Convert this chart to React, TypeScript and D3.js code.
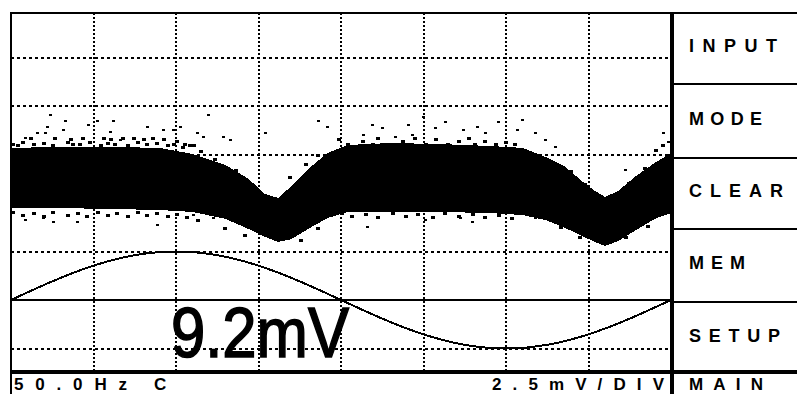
import React from "react";
import * as d3 from "d3";

// ---- data (time in ms, voltage in mV; 2.5 mV/DIV, 2.5 ms/DIV) ----
const BAND_T = [0, 1.5, 3, 4.5, 5.5, 6.5, 7.2, 7.7, 8.1, 8.5, 9.0, 9.6, 10.2, 11.5, 13, 14.5, 15.5, 16.2, 16.8, 17.3, 17.7, 18.0, 18.4, 18.9, 19.5, 20];
const BAND_UPPER = [7.84, 7.89, 7.89, 7.84, 7.53, 6.96, 6.24, 5.46, 5.26, 5.88, 6.75, 7.58, 7.99, 8.09, 8.04, 7.94, 7.84, 7.37, 6.86, 6.13, 5.62, 5.31, 5.62, 6.34, 7.06, 7.58];
const BAND_LOWER = [4.74, 4.74, 4.69, 4.64, 4.54, 4.18, 3.66, 3.25, 2.99, 3.14, 3.66, 4.23, 4.54, 4.54, 4.54, 4.48, 4.38, 4.12, 3.71, 3.30, 2.99, 2.78, 3.04, 3.56, 4.18, 4.48];

// isolated noise samples outside the dense band
const DOT_T = [1.18, 5.97, 9.30, 1.64, 3.09, 2.61, 1.09, 0.79, 1.03, 1.58, 2.33, 4.12, 4.61, 4.91, 5.12, 7.70, 5.64, 5.82, 6.42, 6.64, 0.42, 3.0, 3.30, 9.58, 10.94, 11.24, 12.03, 12.15, 12.48, 12.85, 13.15, 13.70, 14.12, 14.36, 14.76, 15.48, 15.33, 15.88, 16.18, 16.48, 10.67, 11.64, 19.76, 19.91, 18.61,
  0.42, 0.97, 1.27, 2.0, 4.42, 5.52, 6.12, 8.0, 8.21, 10.79, 13.61, 13.97, 15.88, 12.55, 17.85];
const DOT_MV = [9.54, 9.54, 9.23, 9.23, 9.23, 9.23, 8.92, 8.61, 8.61, 8.76, 9.02, 8.92, 8.76, 8.76, 8.92, 8.61, 8.61, 8.40, 8.40, 8.25, 8.35, 8.66, 8.25, 8.92, 9.02, 8.87, 9.02, 8.51, 9.43, 8.87, 9.18, 8.76, 8.92, 8.61, 9.18, 9.28, 8.76, 8.61, 8.25, 7.89, 8.51, 8.40, 8.61, 8.14, 6.70,
  4.12, 4.23, 4.02, 4.02, 3.87, 4.38, 4.23, 4.79, 5.31, 3.76, 4.23, 4.02, 4.23, 4.12, 4.64];

// fringe samples hugging the band edges
const FRINGE_T = [
  0.06, 0.21, 0.36, 0.67, 0.97, 1.27, 1.70, 1.85, 2.09, 2.39, 2.70, 2.91, 3.15, 3.52, 3.82, 4.12, 4.42, 4.73, 4.91, 5.21, 5.42, 5.73,
  0.58, 1.33, 1.79, 2.18, 2.79, 3.0, 3.39, 3.70, 4.0, 4.30, 4.61, 5.03, 5.27, 5.52,
  0.06, 0.36, 0.67, 0.97, 1.27, 1.70, 2.0, 2.30, 2.61, 2.91, 3.21, 3.52, 3.82, 4.12, 4.42, 4.73, 5.03, 5.33, 5.64,
  9.91, 10.21, 10.64, 10.94, 11.12, 11.42, 11.85, 12.24, 12.55, 12.85, 13.24, 13.55, 13.85, 14.06, 14.36, 14.67, 14.97, 15.27,
  10.03, 10.33, 10.73, 11.12, 11.55, 11.94, 12.33, 12.76, 13.15, 13.55, 13.97, 14.36, 14.76, 15.18,
  6.18, 6.79, 7.24, 8.45, 8.91, 9.30, 6.48, 7.09, 8.76, 9.30,
  16.48, 16.94, 17.39, 18.70, 19.21, 16.64, 17.24, 18.61, 19.30, 19.52, 19.73,
];
const FRINGE_MV = [
  8.04, 7.94, 8.14, 7.99, 8.09, 7.94, 8.14, 8.04, 7.99, 8.14, 7.94, 8.09, 8.04, 7.94, 8.14, 7.99, 8.09, 7.94, 8.04, 7.84, 7.94, 7.68,
  8.30, 8.35, 8.25, 8.30, 8.35, 8.25, 8.30, 8.35, 8.25, 8.30, 8.25, 8.19, 8.04, 7.94,
  4.50, 4.36, 4.45, 4.30, 4.50, 4.36, 4.45, 4.30, 4.50, 4.36, 4.45, 4.30, 4.50, 4.36, 4.45, 4.30, 4.40, 4.25, 4.12,
  8.25, 8.04, 8.19, 7.99, 8.30, 8.04, 8.19, 8.35, 8.04, 8.25, 7.99, 8.19, 8.30, 8.04, 8.19, 7.99, 8.14, 7.99,
  4.48, 4.28, 4.40, 4.23, 4.48, 4.28, 4.40, 4.23, 4.48, 4.28, 4.40, 4.23, 4.36, 4.18,
  7.22, 6.70, 5.93, 6.29, 6.96, 7.47, 3.71, 3.30, 3.09, 3.71,
  7.06, 6.60, 5.93, 6.03, 6.80, 3.76, 3.20, 3.20, 3.81, 7.73, 7.94,
];

const SINE_T = [0, 1.25, 2.5, 3.75, 5, 6.25, 7.5, 8.75, 10, 11.25, 12.5, 13.75, 15, 16.25, 17.5, 18.75, 20];
const SINE_MV = [0, 0.96, 1.77, 2.31, 2.5, 2.31, 1.77, 0.96, 0, -0.96, -1.77, -2.31, -2.5, -2.31, -1.77, -0.96, 0];

const X_DIV_TICKS = [2.5, 5, 7.5, 10, 12.5, 15, 17.5];
const Y_DIV_TICKS = [-2.5, 2.5, 5, 7.5, 10, 12.5];

const BUTTONS = ["INPUT", "MODE", "CLEAR", "MEM", "SETUP"];
const BUTTON_BASELINES = [52, 125, 197, 269, 342];
const BUTTON_WIDTHS = [88, 73, 94, 56, 91];
const BUTTON_SEPARATORS = [84, 158, 229, 302];
const FREQ_LABEL = "50.0Hz";
const COUPLING_LABEL = "C";
const SCALE_LABEL = "2.5mV/DIV";
const TIMEBASE_LABEL = "MAIN";
const READOUT = "9.2mV";

const W = 797;
const H = 394;
const LEFT = 11;
const RIGHT = 671;
const TOP = 13;
const BOTTOM = 372;

export default function App() {
  const x = d3.scaleLinear().domain([0, 20]).range([LEFT, RIGHT]);
  const y = d3.scaleLinear().domain([0, 2.5]).range([300, 251.5]);

  const band = d3
    .area<number>()
    .x((_, i) => x(BAND_T[i]))
    .y0((_, i) => y(BAND_LOWER[i]))
    .y1((_, i) => y(BAND_UPPER[i]))
    .curve(d3.curveLinear)(BAND_T);

  const sine = d3
    .line<number>()
    .x((_, i) => x(SINE_T[i]))
    .y((_, i) => y(SINE_MV[i]))
    .curve(d3.curveNatural)(SINE_T);

  const font = "'Liberation Sans', Arial, sans-serif";

  return (
    <svg
      width={W}
      height={H}
      style={{ position: "absolute", left: 0, top: 0, background: "#fff" }}
    >
      <rect x={0} y={0} width={W} height={H} fill="#fff" />
      {/* grid */}
      <g shapeRendering="crispEdges" stroke="#000">
        {X_DIV_TICKS.map((t) => (
          <line key={"v" + t} x1={x(t)} x2={x(t)} y1={TOP} y2={BOTTOM} strokeWidth={2} strokeDasharray="2 2" />
        ))}
        {Y_DIV_TICKS.map((v) => (
          <line key={"h" + v} x1={LEFT} x2={RIGHT} y1={y(v)} y2={y(v)} strokeWidth={2} strokeDasharray="3 3" />
        ))}
        <line x1={LEFT} x2={RIGHT} y1={y(0)} y2={y(0)} strokeWidth={2} />
      </g>
      {/* noisy signal band */}
      <path d={band || ""} fill="#000" shapeRendering="crispEdges" />
      {FRINGE_T.map((t, i) => (
        <rect key={"f" + i} x={x(t) - 1.5} y={y(FRINGE_MV[i]) - 1.5} width={4} height={3} fill="#000" shapeRendering="crispEdges" />
      ))}
      {DOT_T.map((t, i) => (
        <rect key={"d" + i} x={x(t) - 1} y={y(DOT_MV[i]) - 1} width={3} height={2} fill="#000" shapeRendering="crispEdges" />
      ))}
      {/* reference sine */}
      <path d={sine || ""} fill="none" stroke="#000" strokeWidth={2} shapeRendering="crispEdges" />

      {/* frame */}
      <g stroke="#000" shapeRendering="crispEdges">
        <line x1={LEFT - 1} x2={W} y1={TOP} y2={TOP} strokeWidth={2} />
        <line x1={LEFT} x2={LEFT} y1={TOP} y2={H} strokeWidth={2.5} />
        <line x1={672} x2={672} y1={TOP} y2={H} strokeWidth={3.5} />
        <line x1={LEFT} x2={W} y1={BOTTOM} y2={BOTTOM} strokeWidth={4} />
        {BUTTON_SEPARATORS.map((s) => (
          <line key={"s" + s} x1={672} x2={W} y1={s} y2={s} strokeWidth={2} />
        ))}
      </g>

      {/* big readout */}
      <text
        x={171}
        y={357}
        fontFamily={font}
        fontSize={70}
        textLength={178}
        lengthAdjust="spacingAndGlyphs"
        fill="#000"
        stroke="#000"
        strokeWidth={1.6}
      >
        {READOUT}
      </text>

      {/* right panel labels */}
      {BUTTONS.map((b, i) => (
        <text
          key={b}
          x={689}
          y={BUTTON_BASELINES[i]}
          fontFamily={font}
          fontSize={18}
          fontWeight="bold"
          textLength={BUTTON_WIDTHS[i]}
          lengthAdjust="spacing"
          fill="#000"
        >
          {b}
        </text>
      ))}
      <text x={689} y={390} fontFamily={font} fontSize={17} fontWeight="bold" textLength={74} lengthAdjust="spacing" fill="#000">
        {TIMEBASE_LABEL}
      </text>

      {/* status bar */}
      <text x={14} y={390} fontFamily={font} fontSize={17} fontWeight="bold" textLength={113} lengthAdjust="spacing" fill="#000">
        {FREQ_LABEL}
      </text>
      <text x={154} y={390} fontFamily={font} fontSize={17} fontWeight="bold" fill="#000">
        {COUPLING_LABEL}
      </text>
      <text x={492} y={390} fontFamily={font} fontSize={17} fontWeight="bold" textLength={172} lengthAdjust="spacing" fill="#000">
        {SCALE_LABEL}
      </text>
    </svg>
  );
}
